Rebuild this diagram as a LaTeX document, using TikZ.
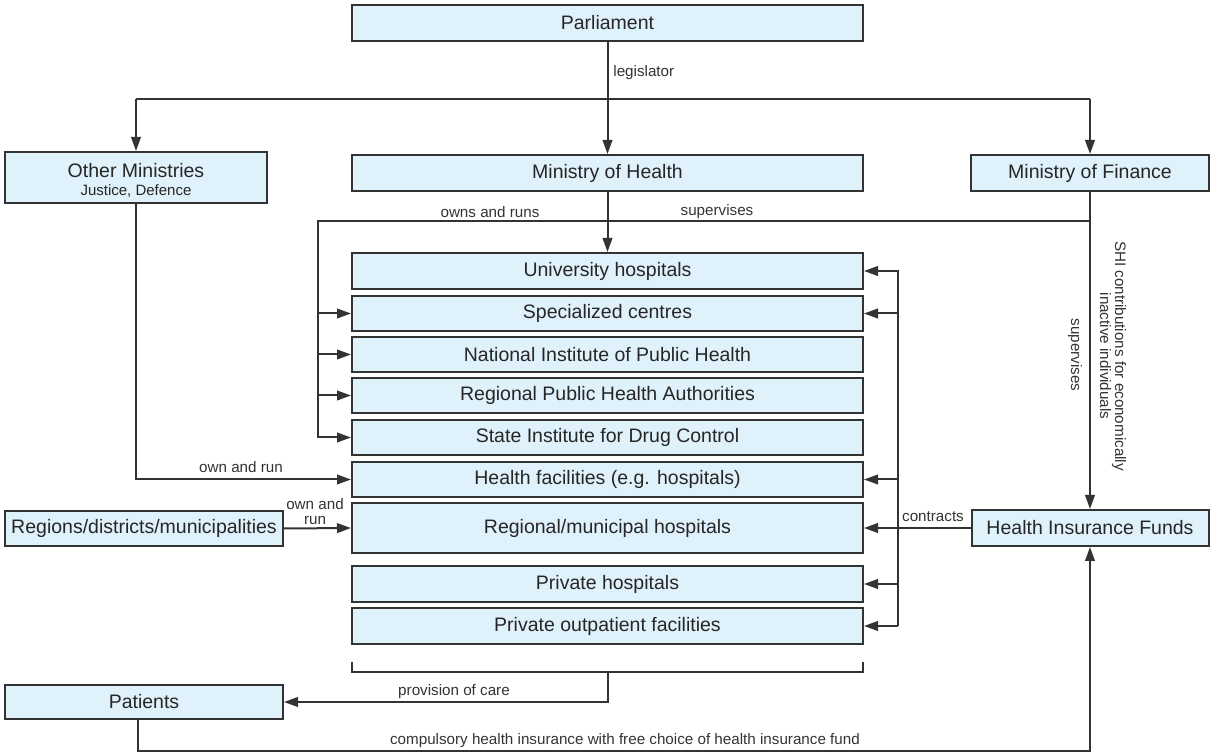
\documentclass[tikz,border=0pt]{standalone}
\usepackage{fontspec}
\setmainfont{Liberation Sans}
\usetikzlibrary{arrows.meta}
\definecolor{boxfill}{HTML}{DFF1FB}
\definecolor{ink}{HTML}{333333}
\begin{document}
\begin{tikzpicture}[x=0.5pt,y=-0.5pt,
  box/.style={draw=ink, line width=1pt, fill=boxfill, inner sep=0pt, text=black!85,
              font=\fontsize{9.75}{11}\selectfont, align=center},
  wide/.style={box, minimum width=255.5pt, minimum height=17.5pt},
  conn/.style={draw=ink, line width=1pt},
  arr/.style={conn, -{Triangle[length=7pt,width=4.8pt]}},
  lbl/.style={text=ink, font=\fontsize{7.6}{7.5}\selectfont, inner sep=0pt, align=center},
]
\useasboundingbox (0,0) rectangle (1212,753);

% top level
\node[wide, minimum height=18pt] (parl) at (607.5,23) {Parliament};
\node[wide, minimum height=18pt] (mohealth) at (607.5,173) {Ministry of Health};
\node[box, minimum width=131pt, minimum height=25.5pt, font=\fontsize{9.75}{9}\selectfont] (other) at (136,177.5)
  {\rule{0pt}{10.2pt}Other Ministries\\{\fontsize{7.5}{9}\selectfont Justice, Defence}};
\node[box, minimum width=119pt, minimum height=18pt] (mofin) at (1090,173) {Ministry of Finance};

% providers
\node[wide, minimum height=18pt] (uni) at (607.5,271) {University hospitals};
\node[wide] (spec) at (607.5,313.5) {Specialized centres};
\node[wide] (nat) at (607.5,354.5) {National Institute of Public Health};
\node[wide] (reg) at (607.5,395.5) {Regional Public Health Authorities};
\node[wide] (state) at (607.5,437.5) {State Institute for Drug Control};
\node[wide] (hf) at (607.5,479.5) {Health facilities (e.g. hospitals)};
\node[wide, minimum height=25pt] (regmun) at (607.5,528) {Regional/municipal hospitals};
\node[wide, minimum height=18pt] (ph) at (607.5,584) {Private hospitals};
\node[wide, minimum height=18pt] (poutp) at (607.5,626) {Private outpatient facilities};

% side boxes
\node[box, minimum width=139pt, minimum height=17.5pt] (regions) at (144,528.5) {Regions/districts/municipalities};
\node[box, minimum width=118.5pt, minimum height=18pt] (hif) at (1090,528) {Health Insurance Funds};
\node[box, minimum width=139pt, minimum height=17pt] (patients) at (144,702) {Patients};

% legislator
\draw[arr] (parl.south) -- (mohealth.north);
\node[lbl, anchor=west] (leg) at (613,73) {legislator};
\coordinate (hl) at (136,99);
\coordinate (hr) at (1090,99);
\draw[conn] (hl) -- (hr);
\draw[arr] (hl) -- (other.north);
\draw[arr] (hr) -- (mofin.north);

% owns and runs / supervises
\draw[arr] (mohealth.south) -- (uni.north);
\coordinate (sr) at (1090,221);
\coordinate (sl) at (318,221);
\draw[arr] (sr) -- (sl) |- (state.west);
\draw[arr] (sl |- spec.west) -- (spec.west);
\draw[arr] (sl |- nat.west) -- (nat.west);
\draw[arr] (sl |- reg.west) -- (reg.west);
\node[lbl] (owns) at (490,212) {owns and runs};
\node[lbl] (sup1) at (717,212) {supervises};

% Ministry of Finance to HIF
\draw[arr] (mofin.south) -- (hif.north);
\node[lbl, rotate=-90] (shi) at (1113,356) {SHI contributions for economically\\inactive individuals};
\node[lbl, rotate=-90] (sup2) at (1075,355) {supervises};

% other ministries own and run
\draw[arr] (other.south) |- (hf.west);
\node[lbl] (oar1) at (241,467) {own and run};

% regions own and run
\draw[arr] (regions.east) -- (regmun.west);
\node[lbl] (oar2) at (315,512) {own and\\run};

% contracts
\coordinate (ct) at (898,271);
\coordinate (cb) at (898,626);
\draw[arr] (cb) -- (ct) -- (uni.east);
\draw[arr] (ct |- poutp.east) -- (poutp.east);
\draw[arr] (ct |- spec.east) -- (spec.east);
\draw[arr] (ct |- hf.east) -- (hf.east);
\draw[arr] (ct |- ph.east) -- (ph.east);
\draw[arr] (hif.west) -- (regmun.east);
\node[lbl] (contr) at (933,517) {contracts};

% provision of care
\coordinate (bl) at (352,662);
\coordinate (br) at (863,662);
\coordinate (bm) at (607.5,672);
\draw[conn] (bl) |- (bm) -| (br);
\draw[arr] (bm) |- (patients.east);
\node[lbl] (prov) at (454,692) {provision of care};

% compulsory insurance
\coordinate (pb) at (138,718.5);
\coordinate (hb) at (1090,751);
\draw[arr] (pb) |- (hb) -- (hif.south);
\node[lbl] (comp) at (625,741) {compulsory health insurance with free choice of health insurance fund};
\end{tikzpicture}
\end{document}
